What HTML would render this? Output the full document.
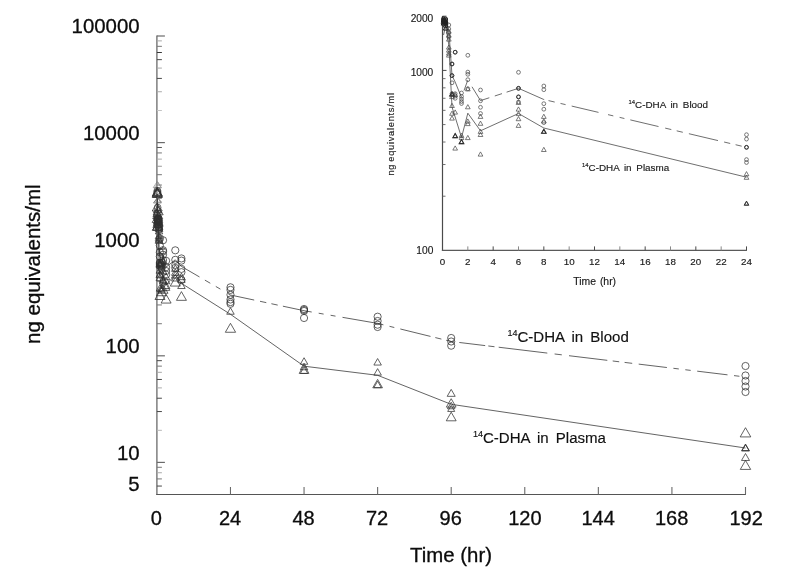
<!DOCTYPE html>
<html><head><meta charset="utf-8"><title>14C-DHA in Blood and Plasma</title>
<style>
html,body{margin:0;padding:0;background:#fff}
svg{display:block}
.t{font-family:"Liberation Sans", Arial, sans-serif;fill:#0c0c0c;stroke:#0c0c0c;stroke-width:0.3px}
.t3{font-family:"Liberation Sans", Arial, sans-serif;fill:#111;stroke:#111;stroke-width:0.15px}
.t2{font-family:"Liberation Sans", Arial, sans-serif;fill:#1a1a1a;stroke:#1a1a1a;stroke-width:0.15px}
</style></head><body>
<svg width="785" height="580" viewBox="0 0 785 580">
<rect width="785" height="580" fill="#fff"/>
<line x1="156.90" y1="35.50" x2="156.90" y2="495.10" stroke="#6a6a6a" stroke-width="1.3"/>
<line x1="156.30" y1="494.50" x2="746.00" y2="494.50" stroke="#555" stroke-width="1.05"/>
<line x1="156.90" y1="462.41" x2="164.90" y2="462.41" stroke="#6a6a6a" stroke-width="1.2"/>
<line x1="156.90" y1="486.06" x2="161.90" y2="486.06" stroke="#484848" stroke-width="1"/>
<line x1="156.90" y1="478.92" x2="161.90" y2="478.92" stroke="#777" stroke-width="1"/>
<line x1="156.90" y1="472.74" x2="161.90" y2="472.74" stroke="#aaa" stroke-width="1"/>
<line x1="156.90" y1="467.29" x2="161.90" y2="467.29" stroke="#777" stroke-width="1"/>
<line x1="156.90" y1="355.81" x2="164.90" y2="355.81" stroke="#6a6a6a" stroke-width="1.2"/>
<line x1="156.90" y1="430.32" x2="161.90" y2="430.32" stroke="#b8b8b8" stroke-width="1"/>
<line x1="156.90" y1="411.55" x2="161.90" y2="411.55" stroke="#484848" stroke-width="1"/>
<line x1="156.90" y1="398.23" x2="161.90" y2="398.23" stroke="#484848" stroke-width="1"/>
<line x1="156.90" y1="387.90" x2="161.90" y2="387.90" stroke="#aaa" stroke-width="1"/>
<line x1="156.90" y1="379.46" x2="161.90" y2="379.46" stroke="#484848" stroke-width="1"/>
<line x1="156.90" y1="372.32" x2="161.90" y2="372.32" stroke="#aaa" stroke-width="1"/>
<line x1="156.90" y1="366.14" x2="161.90" y2="366.14" stroke="#777" stroke-width="1"/>
<line x1="156.90" y1="360.68" x2="161.90" y2="360.68" stroke="#484848" stroke-width="1"/>
<line x1="156.90" y1="249.20" x2="164.90" y2="249.20" stroke="#6a6a6a" stroke-width="1.2"/>
<line x1="156.90" y1="323.72" x2="161.90" y2="323.72" stroke="#777" stroke-width="1"/>
<line x1="156.90" y1="304.94" x2="161.90" y2="304.94" stroke="#777" stroke-width="1"/>
<line x1="156.90" y1="291.63" x2="161.90" y2="291.63" stroke="#777" stroke-width="1"/>
<line x1="156.90" y1="281.30" x2="161.90" y2="281.30" stroke="#777" stroke-width="1"/>
<line x1="156.90" y1="272.85" x2="161.90" y2="272.85" stroke="#777" stroke-width="1"/>
<line x1="156.90" y1="265.72" x2="161.90" y2="265.72" stroke="#777" stroke-width="1"/>
<line x1="156.90" y1="259.54" x2="161.90" y2="259.54" stroke="#777" stroke-width="1"/>
<line x1="156.90" y1="254.08" x2="161.90" y2="254.08" stroke="#777" stroke-width="1"/>
<line x1="156.90" y1="142.60" x2="164.90" y2="142.60" stroke="#6a6a6a" stroke-width="1.2"/>
<line x1="156.90" y1="217.11" x2="161.90" y2="217.11" stroke="#777" stroke-width="1"/>
<line x1="156.90" y1="198.34" x2="161.90" y2="198.34" stroke="#777" stroke-width="1"/>
<line x1="156.90" y1="185.02" x2="161.90" y2="185.02" stroke="#777" stroke-width="1"/>
<line x1="156.90" y1="174.69" x2="161.90" y2="174.69" stroke="#777" stroke-width="1"/>
<line x1="156.90" y1="166.25" x2="161.90" y2="166.25" stroke="#999" stroke-width="1"/>
<line x1="156.90" y1="159.12" x2="161.90" y2="159.12" stroke="#aaa" stroke-width="1"/>
<line x1="156.90" y1="152.93" x2="161.90" y2="152.93" stroke="#777" stroke-width="1"/>
<line x1="156.90" y1="147.48" x2="161.90" y2="147.48" stroke="#555" stroke-width="1"/>
<line x1="156.90" y1="36.00" x2="164.90" y2="36.00" stroke="#6a6a6a" stroke-width="1.2"/>
<line x1="156.90" y1="110.51" x2="161.90" y2="110.51" stroke="#c4c4c4" stroke-width="1"/>
<line x1="156.90" y1="91.74" x2="161.90" y2="91.74" stroke="#aaa" stroke-width="1"/>
<line x1="156.90" y1="78.42" x2="161.90" y2="78.42" stroke="#484848" stroke-width="1"/>
<line x1="156.90" y1="68.09" x2="161.90" y2="68.09" stroke="#aaa" stroke-width="1"/>
<line x1="156.90" y1="59.65" x2="161.90" y2="59.65" stroke="#484848" stroke-width="1"/>
<line x1="156.90" y1="52.51" x2="161.90" y2="52.51" stroke="#383838" stroke-width="1"/>
<line x1="156.90" y1="46.33" x2="161.90" y2="46.33" stroke="#777" stroke-width="1"/>
<line x1="156.90" y1="40.88" x2="161.90" y2="40.88" stroke="#aaa" stroke-width="1"/>
<line x1="230.48" y1="494.50" x2="230.48" y2="487.00" stroke="#6a6a6a" stroke-width="1.1"/>
<line x1="304.05" y1="494.50" x2="304.05" y2="487.00" stroke="#6a6a6a" stroke-width="1.1"/>
<line x1="377.62" y1="494.50" x2="377.62" y2="487.00" stroke="#6a6a6a" stroke-width="1.1"/>
<line x1="451.20" y1="494.50" x2="451.20" y2="487.00" stroke="#6a6a6a" stroke-width="1.1"/>
<line x1="524.77" y1="494.50" x2="524.77" y2="487.00" stroke="#6a6a6a" stroke-width="1.1"/>
<line x1="598.35" y1="494.50" x2="598.35" y2="487.00" stroke="#6a6a6a" stroke-width="1.1"/>
<line x1="671.92" y1="494.50" x2="671.92" y2="487.00" stroke="#6a6a6a" stroke-width="1.1"/>
<line x1="745.50" y1="494.50" x2="745.50" y2="487.00" stroke="#6a6a6a" stroke-width="1.1"/>
<text x="139.6" y="33.2" text-anchor="end" font-size="20.4" class="t">100000</text>
<text x="139.6" y="140.3" text-anchor="end" font-size="20.4" class="t">10000</text>
<text x="139.6" y="246.5" text-anchor="end" font-size="20.4" class="t">1000</text>
<text x="139.6" y="353.4" text-anchor="end" font-size="20.4" class="t">100</text>
<text x="139.6" y="459.6" text-anchor="end" font-size="20.4" class="t">10</text>
<text x="139.6" y="491.3" text-anchor="end" font-size="20.4" class="t">5</text>
<text x="156.4" y="525.2" text-anchor="middle" font-size="20" class="t">0</text>
<text x="230.0" y="525.2" text-anchor="middle" font-size="20" class="t">24</text>
<text x="303.6" y="525.2" text-anchor="middle" font-size="20" class="t">48</text>
<text x="377.1" y="525.2" text-anchor="middle" font-size="20" class="t">72</text>
<text x="450.7" y="525.2" text-anchor="middle" font-size="20" class="t">96</text>
<text x="524.9" y="525.2" text-anchor="middle" font-size="20" class="t">120</text>
<text x="598.2" y="525.2" text-anchor="middle" font-size="20" class="t">144</text>
<text x="671.7" y="525.2" text-anchor="middle" font-size="20" class="t">168</text>
<text x="746.2" y="525.2" text-anchor="middle" font-size="20" class="t">192</text>
<text x="451" y="561.6" text-anchor="middle" font-size="20.4" class="t">Time (hr)</text>
<text transform="translate(39.9,264.2) rotate(-90)" text-anchor="middle" font-size="20.5" class="t">ng equivalents/ml</text>
<path d="M157.30 194.00L157.60 206.00L158.43 225.28L159.20 252.28L159.97 256.07L161.50 265.25L163.03 254.89L166.10 267.09L175.29 259.81L181.43 266.44L199.50 276.96M204.90 280.11L210.30 283.25M215.80 286.45L220.40 289.13M228.00 293.56L230.48 295.00L254.20 300.06M260.00 301.30L266.30 302.64M271.40 303.73L277.70 305.08M282.90 306.19L304.05 310.70L311.70 312.02M318.70 313.23L323.60 314.07M330.60 315.28L335.50 316.13M342.50 317.34L377.62 323.40L383.40 324.82M389.50 326.32L394.30 327.50M400.30 328.98L430.50 336.41M435.30 337.59L441.40 339.09M446.20 340.27L451.20 341.50L454.30 341.87M459.30 342.48L485.20 345.60M488.30 345.98L494.50 346.72M498.70 347.23L547.30 353.09M554.60 353.97L561.80 354.84M569.00 355.71L607.30 360.33M612.70 360.98L619.20 361.77M624.60 362.42L632.20 363.33M638.70 364.12L666.90 367.52M673.40 368.30L678.80 368.95M685.30 369.74L690.70 370.39M697.20 371.17L727.50 374.83M734.00 375.61L739.40 376.26" fill="none" stroke="#303030" stroke-width="0.75" stroke-linejoin="round"/>
<path d="M157.30 198.00L157.60 212.00L158.43 234.16L159.20 270.88L159.97 276.80L161.50 288.94L163.03 274.55L166.10 284.98L175.29 274.73L181.43 283.32L230.48 314.30L304.05 366.20L377.62 375.30L451.20 404.30L745.50 448.00" fill="none" stroke="#303030" stroke-width="0.75" stroke-linejoin="round"/>
<circle cx="157.75" cy="218.53" r="3.6" fill="none" stroke="#303030" stroke-width="0.75"/>
<circle cx="157.75" cy="219.12" r="3.6" fill="none" stroke="#303030" stroke-width="0.75"/>
<circle cx="157.75" cy="219.71" r="3.6" fill="none" stroke="#303030" stroke-width="0.75"/>
<circle cx="157.75" cy="220.30" r="3.6" fill="none" stroke="#303030" stroke-width="0.75"/>
<circle cx="158.27" cy="218.76" r="3.6" fill="none" stroke="#303030" stroke-width="0.75"/>
<circle cx="158.27" cy="219.59" r="3.6" fill="none" stroke="#303030" stroke-width="0.75"/>
<circle cx="158.27" cy="220.42" r="3.6" fill="none" stroke="#303030" stroke-width="0.75"/>
<circle cx="158.27" cy="221.25" r="3.6" fill="none" stroke="#303030" stroke-width="0.75"/>
<circle cx="159.03" cy="222.32" r="3.6" fill="none" stroke="#303030" stroke-width="0.75"/>
<circle cx="159.03" cy="224.69" r="3.6" fill="none" stroke="#303030" stroke-width="0.75"/>
<circle cx="159.03" cy="227.06" r="3.6" fill="none" stroke="#303030" stroke-width="0.75"/>
<circle cx="159.03" cy="229.42" r="3.6" fill="none" stroke="#303030" stroke-width="0.75"/>
<circle cx="159.80" cy="245.41" r="3.6" fill="none" stroke="#303030" stroke-width="0.75"/>
<circle cx="159.80" cy="252.28" r="3.6" fill="none" stroke="#303030" stroke-width="0.75"/>
<circle cx="159.80" cy="256.55" r="3.6" fill="none" stroke="#303030" stroke-width="0.75"/>
<circle cx="159.80" cy="263.00" r="3.6" fill="none" stroke="#303030" stroke-width="0.75"/>
<circle cx="159.97" cy="238.43" r="3.6" fill="none" stroke="#303030" stroke-width="0.75"/>
<circle cx="159.97" cy="263.00" r="3.6" fill="none" stroke="#303030" stroke-width="0.75"/>
<circle cx="159.97" cy="264.37" r="3.6" fill="none" stroke="#303030" stroke-width="0.75"/>
<circle cx="159.97" cy="265.73" r="3.6" fill="none" stroke="#303030" stroke-width="0.75"/>
<circle cx="161.50" cy="262.59" r="3.6" fill="none" stroke="#303030" stroke-width="0.75"/>
<circle cx="161.50" cy="264.66" r="3.6" fill="none" stroke="#303030" stroke-width="0.75"/>
<circle cx="161.50" cy="266.14" r="3.6" fill="none" stroke="#303030" stroke-width="0.75"/>
<circle cx="161.50" cy="267.62" r="3.6" fill="none" stroke="#303030" stroke-width="0.75"/>
<circle cx="161.50" cy="268.81" r="3.6" fill="none" stroke="#303030" stroke-width="0.75"/>
<circle cx="163.03" cy="240.26" r="3.6" fill="none" stroke="#303030" stroke-width="0.75"/>
<circle cx="163.03" cy="250.21" r="3.6" fill="none" stroke="#303030" stroke-width="0.75"/>
<circle cx="163.03" cy="251.51" r="3.6" fill="none" stroke="#303030" stroke-width="0.75"/>
<circle cx="163.03" cy="254.71" r="3.6" fill="none" stroke="#303030" stroke-width="0.75"/>
<circle cx="163.03" cy="260.10" r="3.6" fill="none" stroke="#303030" stroke-width="0.75"/>
<circle cx="166.10" cy="260.81" r="3.6" fill="none" stroke="#303030" stroke-width="0.75"/>
<circle cx="166.10" cy="267.21" r="3.6" fill="none" stroke="#303030" stroke-width="0.75"/>
<circle cx="166.10" cy="271.06" r="3.6" fill="none" stroke="#303030" stroke-width="0.75"/>
<circle cx="166.10" cy="274.73" r="3.6" fill="none" stroke="#303030" stroke-width="0.75"/>
<circle cx="175.29" cy="250.33" r="3.6" fill="none" stroke="#303030" stroke-width="0.75"/>
<circle cx="175.29" cy="259.81" r="3.6" fill="none" stroke="#303030" stroke-width="0.75"/>
<circle cx="175.29" cy="264.90" r="3.6" fill="none" stroke="#303030" stroke-width="0.75"/>
<circle cx="175.29" cy="267.92" r="3.6" fill="none" stroke="#303030" stroke-width="0.75"/>
<circle cx="181.43" cy="258.44" r="3.6" fill="none" stroke="#303030" stroke-width="0.75"/>
<circle cx="181.43" cy="260.63" r="3.6" fill="none" stroke="#303030" stroke-width="0.75"/>
<circle cx="181.43" cy="268.93" r="3.6" fill="none" stroke="#303030" stroke-width="0.75"/>
<circle cx="181.43" cy="272.18" r="3.6" fill="none" stroke="#303030" stroke-width="0.75"/>
<circle cx="181.43" cy="280.12" r="3.6" fill="none" stroke="#303030" stroke-width="0.75"/>
<path d="M157.75 216.09L161.50 222.62L154.00 222.62Z" fill="none" stroke="#303030" stroke-width="0.75"/>
<path d="M157.75 216.98L161.50 223.51L154.00 223.51Z" fill="none" stroke="#303030" stroke-width="0.75"/>
<path d="M157.75 217.87L161.50 224.40L154.00 224.40Z" fill="none" stroke="#303030" stroke-width="0.75"/>
<path d="M158.27 216.69L162.02 223.21L154.52 223.21Z" fill="none" stroke="#303030" stroke-width="0.75"/>
<path d="M158.27 217.87L162.02 224.40L154.52 224.40Z" fill="none" stroke="#303030" stroke-width="0.75"/>
<path d="M158.27 219.05L162.02 225.58L154.52 225.58Z" fill="none" stroke="#303030" stroke-width="0.75"/>
<path d="M158.27 220.83L162.02 227.36L154.52 227.36Z" fill="none" stroke="#303030" stroke-width="0.75"/>
<path d="M159.03 222.61L162.78 229.13L155.28 229.13Z" fill="none" stroke="#303030" stroke-width="0.75"/>
<path d="M159.03 224.98L162.78 231.50L155.28 231.50Z" fill="none" stroke="#303030" stroke-width="0.75"/>
<path d="M159.03 227.35L162.78 233.87L155.28 233.87Z" fill="none" stroke="#303030" stroke-width="0.75"/>
<path d="M159.03 232.08L162.78 238.61L155.28 238.61Z" fill="none" stroke="#303030" stroke-width="0.75"/>
<path d="M159.03 233.86L162.78 240.39L155.28 240.39Z" fill="none" stroke="#303030" stroke-width="0.75"/>
<path d="M159.03 235.64L162.78 242.16L155.28 242.16Z" fill="none" stroke="#303030" stroke-width="0.75"/>
<path d="M159.03 236.82L162.78 243.35L155.28 243.35Z" fill="none" stroke="#303030" stroke-width="0.75"/>
<path d="M159.80 259.92L163.55 266.44L156.05 266.44Z" fill="none" stroke="#303030" stroke-width="0.75"/>
<path d="M159.80 261.40L163.55 267.92L156.05 267.92Z" fill="none" stroke="#303030" stroke-width="0.75"/>
<path d="M159.80 266.67L163.55 273.20L156.05 273.20Z" fill="none" stroke="#303030" stroke-width="0.75"/>
<path d="M159.80 271.29L163.55 277.81L156.05 277.81Z" fill="none" stroke="#303030" stroke-width="0.75"/>
<path d="M159.80 274.13L163.55 280.66L156.05 280.66Z" fill="none" stroke="#303030" stroke-width="0.75"/>
<path d="M159.97 260.22L163.72 266.74L156.22 266.74Z" fill="none" stroke="#303030" stroke-width="0.75"/>
<path d="M159.97 270.58L163.72 277.10L156.22 277.10Z" fill="none" stroke="#303030" stroke-width="0.75"/>
<path d="M159.97 284.56L163.72 291.08L156.22 291.08Z" fill="none" stroke="#303030" stroke-width="0.75"/>
<path d="M159.97 290.81L164.97 299.51L154.97 299.51Z" fill="none" stroke="#303030" stroke-width="0.75"/>
<path d="M161.50 284.38L165.25 290.90L157.75 290.90Z" fill="none" stroke="#303030" stroke-width="0.75"/>
<path d="M161.50 285.68L165.25 292.21L157.75 292.21Z" fill="none" stroke="#303030" stroke-width="0.75"/>
<path d="M161.50 287.02L166.50 295.72L156.50 295.72Z" fill="none" stroke="#303030" stroke-width="0.75"/>
<path d="M163.03 256.84L166.78 263.36L159.28 263.36Z" fill="none" stroke="#303030" stroke-width="0.75"/>
<path d="M163.03 267.44L166.78 273.97L159.28 273.97Z" fill="none" stroke="#303030" stroke-width="0.75"/>
<path d="M163.03 275.91L166.78 282.43L159.28 282.43Z" fill="none" stroke="#303030" stroke-width="0.75"/>
<path d="M163.03 277.39L166.78 283.91L159.28 283.91Z" fill="none" stroke="#303030" stroke-width="0.75"/>
<path d="M163.03 284.59L168.03 293.29L158.03 293.29Z" fill="none" stroke="#303030" stroke-width="0.75"/>
<path d="M166.10 273.13L169.85 279.65L162.35 279.65Z" fill="none" stroke="#303030" stroke-width="0.75"/>
<path d="M166.10 277.21L169.85 283.74L162.35 283.74Z" fill="none" stroke="#303030" stroke-width="0.75"/>
<path d="M166.10 282.01L169.85 288.53L162.35 288.53Z" fill="none" stroke="#303030" stroke-width="0.75"/>
<path d="M166.10 283.85L169.85 290.37L162.35 290.37Z" fill="none" stroke="#303030" stroke-width="0.75"/>
<path d="M166.10 294.37L171.10 303.07L161.10 303.07Z" fill="none" stroke="#303030" stroke-width="0.75"/>
<path d="M175.29 264.83L179.04 271.36L171.54 271.36Z" fill="none" stroke="#303030" stroke-width="0.75"/>
<path d="M175.29 268.80L179.04 275.33L171.54 275.33Z" fill="none" stroke="#303030" stroke-width="0.75"/>
<path d="M175.29 271.47L179.04 277.99L171.54 277.99Z" fill="none" stroke="#303030" stroke-width="0.75"/>
<path d="M175.29 274.49L179.04 281.01L171.54 281.01Z" fill="none" stroke="#303030" stroke-width="0.75"/>
<path d="M175.29 277.37L180.29 286.07L170.29 286.07Z" fill="none" stroke="#303030" stroke-width="0.75"/>
<path d="M181.43 273.13L185.18 279.65L177.68 279.65Z" fill="none" stroke="#303030" stroke-width="0.75"/>
<path d="M181.43 275.79L185.18 282.32L177.68 282.32Z" fill="none" stroke="#303030" stroke-width="0.75"/>
<path d="M181.43 282.01L185.18 288.53L177.68 288.53Z" fill="none" stroke="#303030" stroke-width="0.75"/>
<path d="M181.43 291.64L186.43 300.34L176.43 300.34Z" fill="none" stroke="#303030" stroke-width="0.75"/>
<path d="M157.20 181.50L161.20 187.70L153.20 187.70Z" fill="none" stroke="#777" stroke-width="0.6"/>
<path d="M158.00 182.10L161.50 187.70L154.50 187.70Z" fill="none" stroke="#888" stroke-width="0.6"/>
<path d="M157.30 187.30L162.30 195.90L152.30 195.90Z" fill="none" stroke="#303030" stroke-width="0.9"/>
<path d="M157.30 188.10L162.30 196.70L152.30 196.70Z" fill="none" stroke="#303030" stroke-width="0.9"/>
<path d="M157.30 188.90L162.30 197.50L152.30 197.50Z" fill="none" stroke="#303030" stroke-width="0.9"/>
<circle cx="157.40" cy="191.00" r="3.5" fill="none" stroke="#303030" stroke-width="0.8"/>
<circle cx="157.40" cy="192.50" r="3.5" fill="none" stroke="#303030" stroke-width="0.8"/>
<circle cx="157.40" cy="194.00" r="3.5" fill="none" stroke="#303030" stroke-width="0.8"/>
<path d="M157.40 197.80L161.40 203.00L153.40 203.00Z" fill="none" stroke="#555" stroke-width="0.6"/>
<path d="M157.90 197.10L161.40 202.10L154.40 202.10Z" fill="none" stroke="#666" stroke-width="0.6"/>
<path d="M157.20 203.00L162.20 211.00L152.20 211.00Z" fill="none" stroke="#303030" stroke-width="0.8"/>
<circle cx="157.60" cy="207.50" r="3.4" fill="none" stroke="#303030" stroke-width="0.7"/>
<path d="M157.70 205.15L161.95 212.65L153.45 212.65Z" fill="none" stroke="#303030" stroke-width="0.8"/>
<path d="M158.20 206.80L163.20 214.80L153.20 214.80Z" fill="none" stroke="#303030" stroke-width="0.8"/>
<path d="M157.20 208.95L161.45 216.45L152.95 216.45Z" fill="none" stroke="#303030" stroke-width="0.8"/>
<circle cx="157.60" cy="213.20" r="3.4" fill="none" stroke="#303030" stroke-width="0.7"/>
<path d="M157.70 210.60L162.70 218.60L152.70 218.60Z" fill="none" stroke="#303030" stroke-width="0.8"/>
<path d="M158.20 212.75L162.45 220.25L153.95 220.25Z" fill="none" stroke="#303030" stroke-width="0.8"/>
<path d="M157.20 214.40L162.20 222.40L152.20 222.40Z" fill="none" stroke="#303030" stroke-width="0.8"/>
<circle cx="157.60" cy="218.90" r="3.4" fill="none" stroke="#303030" stroke-width="0.7"/>
<path d="M157.70 216.55L161.95 224.05L153.45 224.05Z" fill="none" stroke="#303030" stroke-width="0.8"/>
<path d="M158.20 218.20L163.20 226.20L153.20 226.20Z" fill="none" stroke="#303030" stroke-width="0.8"/>
<path d="M157.20 220.35L161.45 227.85L152.95 227.85Z" fill="none" stroke="#303030" stroke-width="0.8"/>
<circle cx="157.60" cy="224.60" r="3.4" fill="none" stroke="#303030" stroke-width="0.7"/>
<path d="M157.70 222.00L162.70 230.00L152.70 230.00Z" fill="none" stroke="#303030" stroke-width="0.8"/>
<path d="M157.40 222.40L162.40 230.40L152.40 230.40Z" fill="none" stroke="#303030" stroke-width="0.9"/>
<circle cx="230.48" cy="287.30" r="3.6" fill="none" stroke="#303030" stroke-width="0.75"/>
<circle cx="230.48" cy="289.90" r="3.6" fill="none" stroke="#303030" stroke-width="0.75"/>
<circle cx="230.48" cy="294.80" r="3.6" fill="none" stroke="#303030" stroke-width="0.75"/>
<circle cx="230.48" cy="299.50" r="3.6" fill="none" stroke="#303030" stroke-width="0.75"/>
<circle cx="230.48" cy="302.10" r="3.6" fill="none" stroke="#303030" stroke-width="0.75"/>
<circle cx="230.48" cy="303.80" r="3.6" fill="none" stroke="#303030" stroke-width="0.75"/>
<circle cx="304.05" cy="309.00" r="3.6" fill="none" stroke="#303030" stroke-width="0.75"/>
<circle cx="304.05" cy="310.00" r="3.6" fill="none" stroke="#303030" stroke-width="0.75"/>
<circle cx="304.05" cy="311.00" r="3.6" fill="none" stroke="#303030" stroke-width="0.75"/>
<circle cx="304.05" cy="318.00" r="3.6" fill="none" stroke="#303030" stroke-width="0.75"/>
<circle cx="377.62" cy="316.70" r="3.6" fill="none" stroke="#303030" stroke-width="0.75"/>
<circle cx="377.62" cy="321.00" r="3.6" fill="none" stroke="#303030" stroke-width="0.75"/>
<circle cx="377.62" cy="324.70" r="3.6" fill="none" stroke="#303030" stroke-width="0.75"/>
<circle cx="377.62" cy="327.00" r="3.6" fill="none" stroke="#303030" stroke-width="0.75"/>
<circle cx="451.20" cy="338.00" r="3.6" fill="none" stroke="#303030" stroke-width="0.75"/>
<circle cx="451.20" cy="341.50" r="3.6" fill="none" stroke="#303030" stroke-width="0.75"/>
<circle cx="451.20" cy="345.70" r="3.6" fill="none" stroke="#303030" stroke-width="0.75"/>
<circle cx="745.50" cy="366.00" r="3.6" fill="none" stroke="#303030" stroke-width="0.75"/>
<circle cx="745.50" cy="375.50" r="3.6" fill="none" stroke="#303030" stroke-width="0.75"/>
<circle cx="745.50" cy="381.00" r="3.6" fill="none" stroke="#303030" stroke-width="0.75"/>
<circle cx="745.50" cy="386.50" r="3.6" fill="none" stroke="#303030" stroke-width="0.75"/>
<circle cx="745.50" cy="392.00" r="3.6" fill="none" stroke="#303030" stroke-width="0.75"/>
<path d="M230.48 307.74L234.23 314.26L226.73 314.26Z" fill="none" stroke="#303030" stroke-width="0.75"/>
<path d="M230.48 323.32L235.63 332.28L225.33 332.28Z" fill="none" stroke="#303030" stroke-width="0.75"/>
<path d="M304.05 357.74L307.80 364.26L300.30 364.26Z" fill="none" stroke="#303030" stroke-width="0.75"/>
<path d="M304.05 363.24L307.80 369.76L300.30 369.76Z" fill="none" stroke="#303030" stroke-width="0.75"/>
<path d="M304.05 364.98L308.90 373.42L299.20 373.42Z" fill="none" stroke="#303030" stroke-width="0.75"/>
<path d="M304.05 366.94L307.80 373.46L300.30 373.46Z" fill="none" stroke="#303030" stroke-width="0.75"/>
<path d="M377.62 358.54L381.38 365.06L373.88 365.06Z" fill="none" stroke="#303030" stroke-width="0.75"/>
<path d="M377.62 368.64L381.38 375.16L373.88 375.16Z" fill="none" stroke="#303030" stroke-width="0.75"/>
<path d="M377.62 379.38L382.48 387.82L372.77 387.82Z" fill="none" stroke="#303030" stroke-width="0.75"/>
<path d="M377.62 381.18L381.32 387.62L373.93 387.62Z" fill="none" stroke="#303030" stroke-width="0.75"/>
<path d="M451.20 389.37L455.20 396.33L447.20 396.33Z" fill="none" stroke="#303030" stroke-width="0.75"/>
<path d="M451.20 398.68L456.05 407.12L446.35 407.12Z" fill="none" stroke="#303030" stroke-width="0.75"/>
<path d="M451.20 402.24L454.95 408.76L447.45 408.76Z" fill="none" stroke="#303030" stroke-width="0.75"/>
<path d="M451.20 405.35L454.70 411.44L447.70 411.44Z" fill="none" stroke="#303030" stroke-width="0.75"/>
<path d="M451.20 412.19L456.15 420.81L446.25 420.81Z" fill="none" stroke="#303030" stroke-width="0.75"/>
<path d="M745.50 427.69L750.80 436.91L740.20 436.91Z" fill="none" stroke="#303030" stroke-width="0.75"/>
<path d="M745.50 444.02L749.50 450.98L741.50 450.98Z" fill="none" stroke="#303030" stroke-width="0.75"/>
<path d="M745.50 453.52L749.50 460.48L741.50 460.48Z" fill="none" stroke="#303030" stroke-width="0.75"/>
<path d="M745.50 460.38L750.70 469.42L740.30 469.42Z" fill="none" stroke="#303030" stroke-width="0.75"/>
<path d="M745.50 444.60L749.00 450.60L742.00 450.60Z" fill="none" stroke="#303030" stroke-width="0.9"/>
<line x1="442.50" y1="16.00" x2="442.50" y2="251.00" stroke="#4a4a4a" stroke-width="1.2"/>
<line x1="441.90" y1="250.40" x2="746.90" y2="250.40" stroke="#5a5a5a" stroke-width="1.2"/>
<line x1="442.50" y1="16.21" x2="446.50" y2="16.21" stroke="#4a4a4a" stroke-width="1"/>
<line x1="442.50" y1="70.40" x2="446.50" y2="70.40" stroke="#4a4a4a" stroke-width="1"/>
<line x1="442.50" y1="196.21" x2="445.50" y2="196.21" stroke="#606060" stroke-width="0.9"/>
<line x1="442.50" y1="164.52" x2="445.50" y2="164.52" stroke="#606060" stroke-width="0.9"/>
<line x1="442.50" y1="142.03" x2="445.50" y2="142.03" stroke="#606060" stroke-width="0.9"/>
<line x1="442.50" y1="124.59" x2="445.50" y2="124.59" stroke="#606060" stroke-width="0.9"/>
<line x1="442.50" y1="110.33" x2="445.50" y2="110.33" stroke="#606060" stroke-width="0.9"/>
<line x1="442.50" y1="98.28" x2="445.50" y2="98.28" stroke="#606060" stroke-width="0.9"/>
<line x1="442.50" y1="87.84" x2="445.50" y2="87.84" stroke="#606060" stroke-width="0.9"/>
<line x1="442.50" y1="78.64" x2="445.50" y2="78.64" stroke="#606060" stroke-width="0.9"/>
<line x1="467.83" y1="250.40" x2="467.83" y2="246.40" stroke="#888" stroke-width="1"/>
<line x1="493.17" y1="250.40" x2="493.17" y2="246.40" stroke="#4a4a4a" stroke-width="1"/>
<line x1="518.50" y1="250.40" x2="518.50" y2="246.40" stroke="#888" stroke-width="1"/>
<line x1="543.83" y1="250.40" x2="543.83" y2="246.40" stroke="#4a4a4a" stroke-width="1"/>
<line x1="569.17" y1="250.40" x2="569.17" y2="246.40" stroke="#888" stroke-width="1"/>
<line x1="594.50" y1="250.40" x2="594.50" y2="246.40" stroke="#4a4a4a" stroke-width="1"/>
<line x1="619.83" y1="250.40" x2="619.83" y2="246.40" stroke="#888" stroke-width="1"/>
<line x1="645.17" y1="250.40" x2="645.17" y2="246.40" stroke="#4a4a4a" stroke-width="1"/>
<line x1="670.50" y1="250.40" x2="670.50" y2="246.40" stroke="#888" stroke-width="1"/>
<line x1="695.83" y1="250.40" x2="695.83" y2="246.40" stroke="#4a4a4a" stroke-width="1"/>
<line x1="721.17" y1="250.40" x2="721.17" y2="246.40" stroke="#888" stroke-width="1"/>
<line x1="746.50" y1="250.40" x2="746.50" y2="246.40" stroke="#4a4a4a" stroke-width="1"/>
<text x="433.3" y="21.6" text-anchor="end" font-size="10.2" class="t2">2000</text>
<text x="433.3" y="75.6" text-anchor="end" font-size="10.2" class="t2">1000</text>
<text x="433.3" y="253.7" text-anchor="end" font-size="10.2" class="t2">100</text>
<text x="442.5" y="265.1" text-anchor="middle" font-size="9.8" class="t2">0</text>
<text x="467.8" y="265.1" text-anchor="middle" font-size="9.8" class="t2">2</text>
<text x="493.2" y="265.1" text-anchor="middle" font-size="9.8" class="t2">4</text>
<text x="518.5" y="265.1" text-anchor="middle" font-size="9.8" class="t2">6</text>
<text x="543.8" y="265.1" text-anchor="middle" font-size="9.8" class="t2">8</text>
<text x="569.2" y="265.1" text-anchor="middle" font-size="9.8" class="t2">10</text>
<text x="594.5" y="265.1" text-anchor="middle" font-size="9.8" class="t2">12</text>
<text x="619.8" y="265.1" text-anchor="middle" font-size="9.8" class="t2">14</text>
<text x="645.2" y="265.1" text-anchor="middle" font-size="9.8" class="t2">16</text>
<text x="670.5" y="265.1" text-anchor="middle" font-size="9.8" class="t2">18</text>
<text x="695.8" y="265.1" text-anchor="middle" font-size="9.8" class="t2">20</text>
<text x="721.2" y="265.1" text-anchor="middle" font-size="9.8" class="t2">22</text>
<text x="746.5" y="265.1" text-anchor="middle" font-size="9.8" class="t2">24</text>
<text x="594.7" y="284.9" text-anchor="middle" font-size="10.4" class="t2" word-spacing="1">Time (hr)</text>
<text transform="translate(393.8,133.9) rotate(-90)" text-anchor="middle" font-size="9.3" letter-spacing="0.71" word-spacing="-1.2" class="t2">ng equivalents/ml</text>
<path d="M443.55 19.00L445.67 20.50L448.83 30.00L452.00 75.60L455.17 82.00L461.50 97.50M464.00 90.59L467.80 80.09M472.00 86.78L480.50 100.60L489.30 97.75M494.80 95.97L502.00 93.64M506.60 92.15L518.50 88.30L543.83 99.50L544.20 99.59M548.50 100.60L554.70 102.06M560.50 103.43L565.60 104.63M571.70 106.07L598.50 112.39M608.00 114.63L613.30 115.88M619.60 117.37L624.40 118.50M630.30 119.89L658.50 126.54M665.20 128.12L671.30 129.56M676.70 130.84L682.80 132.28M688.90 133.71L718.00 140.58M724.10 142.02L730.20 143.46M735.60 144.73L741.70 146.17" fill="none" stroke="#303030" stroke-width="0.7" stroke-linejoin="round"/>
<path d="M443.55 35.00L445.67 25.50L448.83 45.00L452.00 107.00L455.17 117.00L461.50 137.50L467.83 113.20L480.50 130.80L518.50 113.50L543.83 128.00L746.50 177.20" fill="none" stroke="#303030" stroke-width="0.7" stroke-linejoin="round"/>
<circle cx="443.55" cy="18.60" r="1.9" fill="none" stroke="#222" stroke-width="1.0"/>
<circle cx="443.55" cy="19.60" r="1.9" fill="none" stroke="#222" stroke-width="1.0"/>
<circle cx="443.55" cy="20.60" r="1.9" fill="none" stroke="#222" stroke-width="1.0"/>
<circle cx="443.55" cy="21.60" r="1.9" fill="none" stroke="#222" stroke-width="1.0"/>
<circle cx="445.67" cy="19.00" r="1.9" fill="none" stroke="#222" stroke-width="1.0"/>
<circle cx="445.67" cy="20.40" r="1.9" fill="none" stroke="#222" stroke-width="1.0"/>
<circle cx="445.67" cy="21.80" r="1.9" fill="none" stroke="#222" stroke-width="1.0"/>
<circle cx="445.67" cy="23.20" r="1.9" fill="none" stroke="#222" stroke-width="1.0"/>
<circle cx="448.83" cy="25.00" r="1.9" fill="none" stroke="#444" stroke-width="0.7"/>
<circle cx="448.83" cy="29.00" r="1.9" fill="none" stroke="#444" stroke-width="0.7"/>
<circle cx="448.83" cy="33.00" r="1.9" fill="none" stroke="#444" stroke-width="0.7"/>
<circle cx="448.83" cy="37.00" r="1.9" fill="none" stroke="#444" stroke-width="0.7"/>
<circle cx="452.00" cy="64.00" r="1.9" fill="none" stroke="#444" stroke-width="0.7"/>
<circle cx="452.00" cy="75.60" r="1.9" fill="none" stroke="#444" stroke-width="0.7"/>
<circle cx="452.00" cy="82.80" r="1.9" fill="none" stroke="#444" stroke-width="0.7"/>
<circle cx="452.00" cy="93.70" r="1.9" fill="none" stroke="#444" stroke-width="0.7"/>
<circle cx="455.17" cy="52.20" r="1.9" fill="none" stroke="#444" stroke-width="0.7"/>
<circle cx="455.17" cy="93.70" r="1.9" fill="none" stroke="#444" stroke-width="0.7"/>
<circle cx="455.17" cy="96.00" r="1.9" fill="none" stroke="#444" stroke-width="0.7"/>
<circle cx="455.17" cy="98.30" r="1.9" fill="none" stroke="#444" stroke-width="0.7"/>
<circle cx="461.50" cy="93.00" r="1.9" fill="none" stroke="#444" stroke-width="0.7"/>
<circle cx="461.50" cy="96.50" r="1.9" fill="none" stroke="#444" stroke-width="0.7"/>
<circle cx="461.50" cy="99.00" r="1.9" fill="none" stroke="#444" stroke-width="0.7"/>
<circle cx="461.50" cy="101.50" r="1.9" fill="none" stroke="#444" stroke-width="0.7"/>
<circle cx="461.50" cy="103.50" r="1.9" fill="none" stroke="#444" stroke-width="0.7"/>
<circle cx="467.83" cy="55.30" r="1.9" fill="none" stroke="#444" stroke-width="0.7"/>
<circle cx="467.83" cy="72.10" r="1.9" fill="none" stroke="#444" stroke-width="0.7"/>
<circle cx="467.83" cy="74.30" r="1.9" fill="none" stroke="#444" stroke-width="0.7"/>
<circle cx="467.83" cy="79.70" r="1.9" fill="none" stroke="#444" stroke-width="0.7"/>
<circle cx="467.83" cy="88.80" r="1.9" fill="none" stroke="#444" stroke-width="0.7"/>
<circle cx="480.50" cy="90.00" r="1.9" fill="none" stroke="#444" stroke-width="0.7"/>
<circle cx="480.50" cy="100.80" r="1.9" fill="none" stroke="#444" stroke-width="0.7"/>
<circle cx="480.50" cy="107.30" r="1.9" fill="none" stroke="#444" stroke-width="0.7"/>
<circle cx="480.50" cy="113.50" r="1.9" fill="none" stroke="#444" stroke-width="0.7"/>
<circle cx="518.50" cy="72.30" r="1.9" fill="none" stroke="#444" stroke-width="0.7"/>
<circle cx="518.50" cy="88.30" r="1.9" fill="none" stroke="#444" stroke-width="0.7"/>
<circle cx="518.50" cy="96.90" r="1.9" fill="none" stroke="#444" stroke-width="0.7"/>
<circle cx="518.50" cy="102.00" r="1.9" fill="none" stroke="#444" stroke-width="0.7"/>
<circle cx="543.83" cy="86.00" r="1.9" fill="none" stroke="#444" stroke-width="0.7"/>
<circle cx="543.83" cy="89.70" r="1.9" fill="none" stroke="#444" stroke-width="0.7"/>
<circle cx="543.83" cy="103.70" r="1.9" fill="none" stroke="#444" stroke-width="0.7"/>
<circle cx="543.83" cy="109.20" r="1.9" fill="none" stroke="#444" stroke-width="0.7"/>
<circle cx="543.83" cy="122.60" r="1.9" fill="none" stroke="#444" stroke-width="0.7"/>
<circle cx="746.50" cy="134.70" r="1.9" fill="none" stroke="#444" stroke-width="0.7"/>
<circle cx="746.50" cy="139.10" r="1.9" fill="none" stroke="#444" stroke-width="0.7"/>
<circle cx="746.50" cy="147.30" r="1.9" fill="none" stroke="#444" stroke-width="0.7"/>
<circle cx="746.50" cy="159.60" r="1.9" fill="none" stroke="#444" stroke-width="0.7"/>
<circle cx="746.50" cy="162.50" r="1.9" fill="none" stroke="#444" stroke-width="0.7"/>
<path d="M443.55 17.90L445.90 22.10L441.20 22.10Z" fill="none" stroke="#222" stroke-width="1.0"/>
<path d="M443.55 19.40L445.90 23.60L441.20 23.60Z" fill="none" stroke="#222" stroke-width="1.0"/>
<path d="M443.55 20.90L445.90 25.10L441.20 25.10Z" fill="none" stroke="#222" stroke-width="1.0"/>
<path d="M445.67 18.90L448.02 23.10L443.32 23.10Z" fill="none" stroke="#222" stroke-width="1.0"/>
<path d="M445.67 20.90L448.02 25.10L443.32 25.10Z" fill="none" stroke="#222" stroke-width="1.0"/>
<path d="M445.67 22.90L448.02 27.10L443.32 27.10Z" fill="none" stroke="#222" stroke-width="1.0"/>
<path d="M445.67 25.90L448.02 30.10L443.32 30.10Z" fill="none" stroke="#222" stroke-width="1.0"/>
<path d="M448.83 28.90L451.18 33.10L446.48 33.10Z" fill="none" stroke="#444" stroke-width="0.7"/>
<path d="M448.83 32.90L451.18 37.10L446.48 37.10Z" fill="none" stroke="#444" stroke-width="0.7"/>
<path d="M448.83 36.90L451.18 41.10L446.48 41.10Z" fill="none" stroke="#444" stroke-width="0.7"/>
<path d="M448.83 44.90L451.18 49.10L446.48 49.10Z" fill="none" stroke="#444" stroke-width="0.7"/>
<path d="M448.83 47.90L451.18 52.10L446.48 52.10Z" fill="none" stroke="#444" stroke-width="0.7"/>
<path d="M448.83 50.90L451.18 55.10L446.48 55.10Z" fill="none" stroke="#444" stroke-width="0.7"/>
<path d="M448.83 52.90L451.18 57.10L446.48 57.10Z" fill="none" stroke="#444" stroke-width="0.7"/>
<path d="M452.00 91.90L454.35 96.10L449.65 96.10Z" fill="none" stroke="#444" stroke-width="0.7"/>
<path d="M452.00 94.40L454.35 98.60L449.65 98.60Z" fill="none" stroke="#444" stroke-width="0.7"/>
<path d="M452.00 103.30L454.35 107.50L449.65 107.50Z" fill="none" stroke="#444" stroke-width="0.7"/>
<path d="M452.00 111.10L454.35 115.30L449.65 115.30Z" fill="none" stroke="#444" stroke-width="0.7"/>
<path d="M452.00 115.90L454.35 120.10L449.65 120.10Z" fill="none" stroke="#444" stroke-width="0.7"/>
<path d="M455.17 92.40L457.52 96.60L452.82 96.60Z" fill="none" stroke="#444" stroke-width="0.7"/>
<path d="M455.17 109.90L457.52 114.10L452.82 114.10Z" fill="none" stroke="#444" stroke-width="0.7"/>
<path d="M455.17 133.50L457.52 137.70L452.82 137.70Z" fill="none" stroke="#444" stroke-width="0.7"/>
<path d="M455.17 145.90L457.52 150.10L452.82 150.10Z" fill="none" stroke="#444" stroke-width="0.7"/>
<path d="M461.50 133.20L463.85 137.40L459.15 137.40Z" fill="none" stroke="#444" stroke-width="0.7"/>
<path d="M461.50 135.40L463.85 139.60L459.15 139.60Z" fill="none" stroke="#444" stroke-width="0.7"/>
<path d="M461.50 139.50L463.85 143.70L459.15 143.70Z" fill="none" stroke="#444" stroke-width="0.7"/>
<path d="M467.83 86.70L470.18 90.90L465.48 90.90Z" fill="none" stroke="#444" stroke-width="0.7"/>
<path d="M467.83 104.60L470.18 108.80L465.48 108.80Z" fill="none" stroke="#444" stroke-width="0.7"/>
<path d="M467.83 118.90L470.18 123.10L465.48 123.10Z" fill="none" stroke="#444" stroke-width="0.7"/>
<path d="M467.83 121.40L470.18 125.60L465.48 125.60Z" fill="none" stroke="#444" stroke-width="0.7"/>
<path d="M467.83 135.40L470.18 139.60L465.48 139.60Z" fill="none" stroke="#444" stroke-width="0.7"/>
<path d="M480.50 114.20L482.85 118.40L478.15 118.40Z" fill="none" stroke="#444" stroke-width="0.7"/>
<path d="M480.50 121.10L482.85 125.30L478.15 125.30Z" fill="none" stroke="#444" stroke-width="0.7"/>
<path d="M480.50 129.20L482.85 133.40L478.15 133.40Z" fill="none" stroke="#444" stroke-width="0.7"/>
<path d="M480.50 132.30L482.85 136.50L478.15 136.50Z" fill="none" stroke="#444" stroke-width="0.7"/>
<path d="M480.50 151.90L482.85 156.10L478.15 156.10Z" fill="none" stroke="#444" stroke-width="0.7"/>
<path d="M518.50 100.20L520.85 104.40L516.15 104.40Z" fill="none" stroke="#444" stroke-width="0.7"/>
<path d="M518.50 106.90L520.85 111.10L516.15 111.10Z" fill="none" stroke="#444" stroke-width="0.7"/>
<path d="M518.50 111.40L520.85 115.60L516.15 115.60Z" fill="none" stroke="#444" stroke-width="0.7"/>
<path d="M518.50 116.50L520.85 120.70L516.15 120.70Z" fill="none" stroke="#444" stroke-width="0.7"/>
<path d="M518.50 123.20L520.85 127.40L516.15 127.40Z" fill="none" stroke="#444" stroke-width="0.7"/>
<path d="M543.83 114.20L546.18 118.40L541.48 118.40Z" fill="none" stroke="#444" stroke-width="0.7"/>
<path d="M543.83 118.70L546.18 122.90L541.48 122.90Z" fill="none" stroke="#444" stroke-width="0.7"/>
<path d="M543.83 129.20L546.18 133.40L541.48 133.40Z" fill="none" stroke="#444" stroke-width="0.7"/>
<path d="M543.83 147.30L546.18 151.50L541.48 151.50Z" fill="none" stroke="#444" stroke-width="0.7"/>
<path d="M746.50 171.60L748.85 175.80L744.15 175.80Z" fill="none" stroke="#444" stroke-width="0.7"/>
<path d="M746.50 175.10L748.85 179.30L744.15 179.30Z" fill="none" stroke="#444" stroke-width="0.7"/>
<path d="M746.50 201.10L748.85 205.30L744.15 205.30Z" fill="none" stroke="#444" stroke-width="0.7"/>
<path d="M746.50 201.30L748.65 205.10L744.35 205.10Z" fill="none" stroke="#303030" stroke-width="1.0"/>
<circle cx="518.50" cy="88.30" r="1.85" fill="none" stroke="#303030" stroke-width="0.95"/>
<circle cx="518.50" cy="96.90" r="1.85" fill="none" stroke="#303030" stroke-width="0.95"/>
<circle cx="746.50" cy="147.30" r="1.85" fill="none" stroke="#303030" stroke-width="0.95"/>
<circle cx="452.00" cy="64.00" r="1.85" fill="none" stroke="#303030" stroke-width="0.95"/>
<circle cx="452.00" cy="75.60" r="1.85" fill="none" stroke="#303030" stroke-width="0.95"/>
<circle cx="455.17" cy="52.20" r="1.85" fill="none" stroke="#303030" stroke-width="0.95"/>
<path d="M543.83 129.30L546.08 133.30L541.58 133.30Z" fill="none" stroke="#303030" stroke-width="1.1"/>
<path d="M461.50 139.60L463.75 143.60L459.25 143.60Z" fill="none" stroke="#303030" stroke-width="1.1"/>
<path d="M455.17 133.60L457.42 137.60L452.92 137.60Z" fill="none" stroke="#303030" stroke-width="1.1"/>
<path d="M452.00 92.00L454.25 96.00L449.75 96.00Z" fill="none" stroke="#303030" stroke-width="1.1"/>
<text x="507.4" y="341.5" font-size="15.05" class="t3" word-spacing="3.0"><tspan font-size="9.0" dy="-6.0">14</tspan><tspan dy="6.0">C-DHA in Blood</tspan></text>
<text x="472.9" y="443.4" font-size="15.05" class="t3" word-spacing="3.0"><tspan font-size="9.0" dy="-6.0">14</tspan><tspan dy="6.0">C-DHA in Plasma</tspan></text>
<text x="628.5" y="107.7" font-size="9.85" class="t2" word-spacing="2"><tspan font-size="5.9" dy="-3.9">14</tspan><tspan dy="3.9">C-DHA in Blood</tspan></text>
<text x="582" y="170.6" font-size="9.85" class="t2" word-spacing="2"><tspan font-size="5.9" dy="-3.9">14</tspan><tspan dy="3.9">C-DHA in Plasma</tspan></text>
</svg>
</body></html>
